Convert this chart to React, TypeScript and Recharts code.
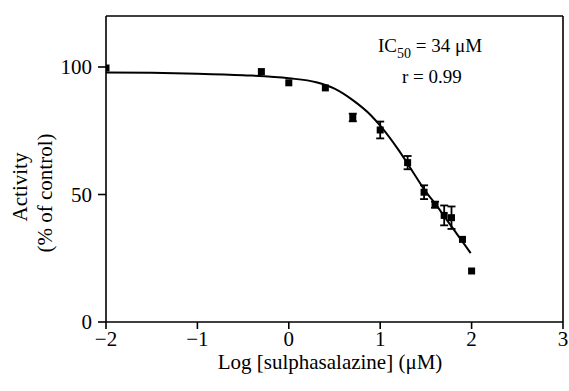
import React from 'react'
import {
  ComposedChart, Line, Scatter, ErrorBar, XAxis, YAxis, ReferenceLine,
} from 'recharts'

// measured points (log conc, % activity, error)
const obsX = [-2, -0.3, 0, 0.4, 0.7, 1.0, 1.3, 1.48, 1.6, 1.7, 1.78, 1.9, 2.0]
const obsY = [99.6, 98.2, 93.8, 91.8, 80.2, 75.3, 62.5, 50.9, 46, 41.8, 40.9, 32.4, 20]
const obsErr = [0, 0, 0, 0, 1.5, 3.3, 2.6, 2.7, 1.2, 3.9, 4.4, 0, 0]

// fitted curve
const fitX = [-2, -1.5, -1, -0.5, 0, 0.3, 0.5, 0.7, 0.9, 1.0, 1.2, 1.4, 1.5, 1.6, 1.7, 1.8, 1.9, 1.99]
const fitY = [97.8, 97.7, 97.4, 96.8, 95.6, 94, 91.5, 87, 81, 77, 67.5, 56.5, 51, 46.5, 41.5, 36.5, 31.5, 27]

const xTicks = [-2, -1, 0, 1, 2, 3]
const yTicks = [0, 50, 100]

const points = obsX.map((x, i) => ({ x, y: obsY[i], err: obsErr[i] }))
const fit = fitX.map((x, i) => ({ x, y: fitY[i] }))

const FONT = "'Liberation Serif', 'Times New Roman', serif"

const Square = (props: any) => {
  const { cx, cy } = props
  if (cx == null || cy == null) return null
  return <rect x={cx - 3.5} y={cy - 3.5} width={7} height={7} fill='#000' />
}

const fmt = (v: number) => (v < 0 ? '\u2212' + Math.abs(v) : String(v))

const XTick = (props: any) => {
  const { x, y, payload } = props
  return (
    <text x={x} y={y + 15} textAnchor='middle' fontFamily={FONT} fontSize={21} fill='#000'>
      {fmt(payload.value)}
    </text>
  )
}

const YTick = (props: any) => {
  const { x, y, payload } = props
  return (
    <text x={x} y={y + 7} textAnchor='end' fontFamily={FONT} fontSize={21} fill='#000'>
      {payload.value}
    </text>
  )
}

export default function App() {
  return (
    <div style={{ position: 'absolute', left: 0, top: 0, width: 569, height: 391, background: '#fff' }}>
      <ComposedChart width={569} height={391} margin={{ top: 16, right: 6, left: 0, bottom: 0 }}>
        <XAxis type='number' dataKey='x' domain={[-2, 3]} ticks={xTicks} allowDataOverflow
          tick={<XTick />} height={69} tickSize={7} tickMargin={2}
          stroke='#000' strokeWidth={1.6} />
        <YAxis type='number' dataKey='y' domain={[0, 120]} ticks={yTicks} width={106}
          tick={<YTick />} tickSize={8} tickMargin={6} stroke='#000' strokeWidth={1.6} />
        <ReferenceLine y={120} stroke='#000' strokeWidth={1.6} />
        <ReferenceLine x={3} stroke='#000' strokeWidth={1.6} />
        <Line data={fit} dataKey='y' type='monotone' stroke='#000' strokeWidth={2}
          dot={false} isAnimationActive={false} />
        <Scatter data={points} dataKey='y' shape={Square} isAnimationActive={false}>
          <ErrorBar dataKey='err' direction='y' width={4} stroke='#000' strokeWidth={1.8} />
        </Scatter>
      </ComposedChart>
      <svg width={569} height={391} style={{ position: 'absolute', left: 0, top: 0, pointerEvents: 'none' }}>
        <g fill='#000' fontFamily={FONT}>
          <text x={330} y={369} fontSize={21} textAnchor='middle'>Log [sulphasalazine] (μM)</text>
          <text transform='translate(27,187) rotate(-90)' fontSize={21} textAnchor='middle'>Activity</text>
          <text transform='translate(52,193) rotate(-90)' fontSize={21} textAnchor='middle'>(% of control)</text>
          <text x={378} y={52} fontSize={19}>
            IC<tspan fontSize={14} dy={6}>50</tspan><tspan dy={-6}> = 34 μM</tspan>
          </text>
          <text x={402} y={83} fontSize={19}>r  = 0.99</text>
        </g>
      </svg>
    </div>
  )
}
